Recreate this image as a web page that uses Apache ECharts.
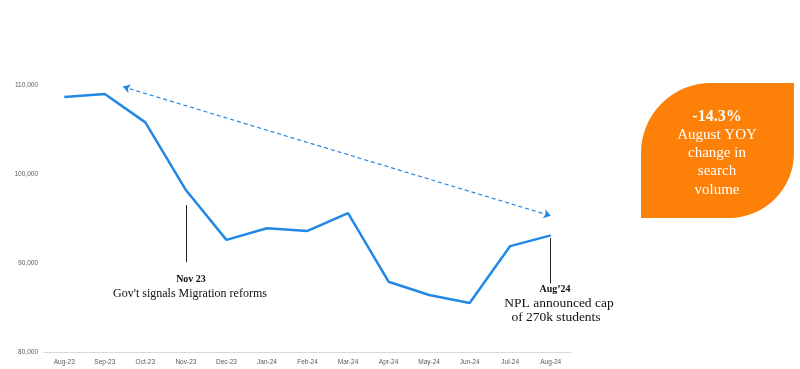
<!DOCTYPE html>
<html><head><meta charset="utf-8">
<script src="https://cdn.jsdelivr.net/npm/echarts@6/dist/echarts.min.js"></script>
<style>html,body{margin:0;padding:0;background:#fff}#c{width:800px;height:369px}</style>
</head><body><div id="c"></div>
<script>
const categories = ['Aug-23','Sep-23','Oct-23','Nov-23','Dec-23','Jan-24','Feb-24','Mar-24','Apr-24','May-24','Jun-24','Jul-24','Aug-24'];
const searchVolume = [108650, 109000, 105800, 98200, 92600, 93900, 93600, 95600, 87900, 86400, 85500, 91900, 93100];
const yTicks = [80000, 90000, 100000, 110000];
const trendArrow = [[1.45, 109800], [12, 95300]];
const novLine = [[3, 96500], [3, 90100]];
const augLine = [[12, 92800], [12, 87700]];

const chart = echarts.init(document.getElementById('c'), null, {renderer: 'canvas'});
const grid = {left: 44, right: 229, top: 85, bottom: 17};
const centerText = (x, y, text, font) => ({type: 'text', x: x, y: y,
  style: {text: text, font: font, fill: '#111', align: 'center', verticalAlign: 'middle'}});
chart.setOption({
  animation: false,
  grid: grid,
  xAxis: [{
    type: 'category', data: categories, boundaryGap: true,
    axisLine: {lineStyle: {color: '#d9d9d9'}}, axisTick: {show: false},
    axisLabel: {color: '#595959', fontSize: 6.5, fontFamily: 'Liberation Sans', margin: 7, interval: 0}
  }, {
    type: 'value', min: -0.5, max: 12.5, show: false
  }],
  yAxis: {
    type: 'value', min: yTicks[0], max: yTicks[yTicks.length - 1], interval: 10000,
    axisLine: {show: false}, axisTick: {show: false}, splitLine: {show: false},
    axisLabel: {color: '#595959', fontSize: 6.5, fontFamily: 'Liberation Sans', margin: 6,
      formatter: v => v.toLocaleString('en-US')}
  },
  series: [{
    type: 'line', data: searchVolume, symbol: 'none',
    lineStyle: {color: '#2288E5', width: 2.5}
  }, {
    type: 'lines', coordinateSystem: 'cartesian2d', xAxisIndex: 1, yAxisIndex: 0,
    symbol: ['arrow', 'arrow'], symbolSize: 7,
    lineStyle: {color: '#2288E5', width: 1.2, type: [4, 3], opacity: 1},
    data: [{coords: trendArrow}]
  }, {
    type: 'lines', coordinateSystem: 'cartesian2d', xAxisIndex: 1, yAxisIndex: 0,
    lineStyle: {color: '#222', width: 1, opacity: 1},
    data: [{coords: novLine}, {coords: augLine}]
  }],
  graphic: [
    centerText(191, 279, 'Nov 23', 'bold 10px "Liberation Serif"'),
    centerText(190, 294, "Gov't signals Migration reforms", '12px "Liberation Serif"'),
    centerText(555, 289, 'Aug\u201924', 'bold 10px "Liberation Serif"'),
    centerText(559, 303, 'NPL announced cap', '13.5px "Liberation Serif"'),
    centerText(556, 317, 'of 270k students', '13.5px "Liberation Serif"'),
    {type: 'rect', shape: {x: 641, y: 83, width: 153, height: 135, r: [70, 0, 65, 0]}, style: {fill: '#FD8008'}},
    {type: 'text', x: 717, y: 153, style: {
      text: '{b|-14.3%}\nAugust YOY\nchange in\nsearch\nvolume',
      align: 'center', verticalAlign: 'middle', fill: '#fff', font: '15px "Liberation Serif"', lineHeight: 18.3,
      rich: {b: {font: 'bold 16px "Liberation Serif"', fill: '#fff', lineHeight: 18.3}}
    }}
  ]
});
</script></body></html>
